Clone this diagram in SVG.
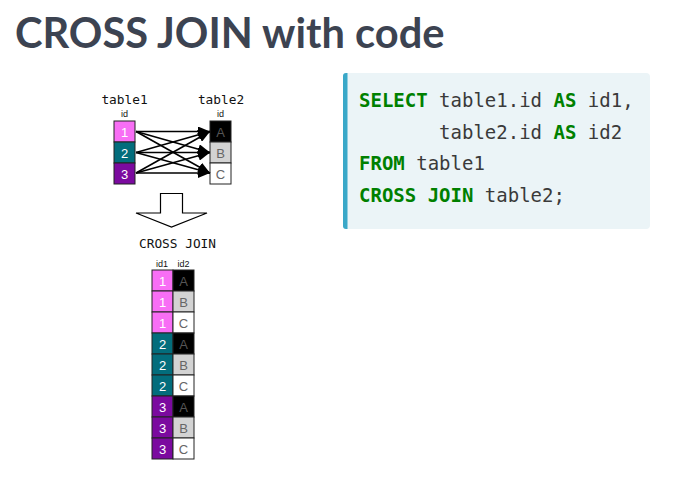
<svg xmlns="http://www.w3.org/2000/svg" width="688" height="483" viewBox="0 0 688 483">
<style>
.title{font-family:Lato,"Noto Sans",sans-serif;font-weight:bold;font-size:41.6px;fill:#3c4351}
.mono{font-family:"DejaVu Sans Mono","Liberation Mono",monospace;font-size:12.8px;fill:#111}
.code{font-family:"DejaVu Sans Mono","Liberation Mono",monospace;font-size:19px;fill:#3a3a3a}
.kw{font-weight:bold;fill:#008000}
.small{font-family:"Liberation Sans",Arial,sans-serif;font-size:9px;fill:#111;text-anchor:middle}
.cell{stroke:#222;stroke-width:1}
.ct{font-family:"Liberation Sans",Arial,sans-serif;font-size:13px;text-anchor:middle}
.w{fill:#fff}.g{fill:#666}.d{fill:#555}
.c1{fill:#f86ef5}.c2{fill:#036d7c}.c3{fill:#7b0a9f}
.cA{fill:#000}.cB{fill:#d3d3d3}.cC{fill:#fff}
.conn{stroke:#000;stroke-width:1.6;fill:none}
</style>
<defs>
<marker id="ah" markerWidth="12" markerHeight="10" refX="12" refY="5" orient="auto" markerUnits="userSpaceOnUse">
<path d="M0,0 L12,5 L0,10 Z" fill="#000"/>
</marker>
</defs>
<rect width="688" height="483" fill="#fff"/>
<text class="title" x="15" y="48">CROSS JOIN with code</text>

<g id="table1">
<text class="mono" x="124.5" y="104" text-anchor="middle">table1</text>
<text class="small" x="124.5" y="117">id</text>
<rect class="cell c1" x="114" y="121" width="21" height="21"/>
<rect class="cell c2" x="114" y="142" width="21" height="21"/>
<rect class="cell c3" x="114" y="163" width="21" height="21"/>
<text class="ct w" x="124.5" y="136.5">1</text>
<text class="ct w" x="124.5" y="157.5">2</text>
<text class="ct w" x="124.5" y="178.5">3</text>
</g>

<g id="table2">
<text class="mono" x="221" y="104" text-anchor="middle">table2</text>
<text class="small" x="220.5" y="117">id</text>
<rect class="cell cA" x="210" y="121" width="21" height="21"/>
<rect class="cell cB" x="210" y="142" width="21" height="21"/>
<rect class="cell cC" x="210" y="163" width="21" height="21"/>
<text class="ct d" x="220.5" y="136.5">A</text>
<text class="ct g" x="220.5" y="157.5">B</text>
<text class="ct g" x="220.5" y="178.5">C</text>
</g>

<g id="connectors">
<line class="conn" x1="136" y1="131.5" x2="210" y2="131.5" marker-end="url(#ah)"/>
<line class="conn" x1="136" y1="131.5" x2="210" y2="152.5" marker-end="url(#ah)"/>
<line class="conn" x1="136" y1="131.5" x2="210" y2="173" marker-end="url(#ah)"/>
<line class="conn" x1="136" y1="152.5" x2="210" y2="131.5" marker-end="url(#ah)"/>
<line class="conn" x1="136" y1="152.5" x2="210" y2="152.5" marker-end="url(#ah)"/>
<line class="conn" x1="136" y1="152.5" x2="210" y2="173" marker-end="url(#ah)"/>
<line class="conn" x1="136" y1="173" x2="210" y2="131.5" marker-end="url(#ah)"/>
<line class="conn" x1="136" y1="173" x2="210" y2="152.5" marker-end="url(#ah)"/>
<line class="conn" x1="136" y1="173" x2="210" y2="173" marker-end="url(#ah)"/>
</g>

<g id="bigarrow">
<path d="M160.5,193.5 H182.5 V213 H207 L171.5,227 L136,213 H160.5 Z" fill="#fff" stroke="#000" stroke-width="1.2"/>
<text class="mono" x="177.5" y="247.5" text-anchor="middle" font-size="13.2px">CROSS JOIN</text>
</g>

<g id="result">
<text class="small" x="162" y="267">id1</text>
<text class="small" x="183.5" y="267">id2</text>
<rect class="cell c1" x="152" y="270" width="21" height="21"/>
<rect class="cell c1" x="152" y="291" width="21" height="21"/>
<rect class="cell c1" x="152" y="312" width="21" height="21"/>
<rect class="cell c2" x="152" y="333" width="21" height="21"/>
<rect class="cell c2" x="152" y="354" width="21" height="21"/>
<rect class="cell c2" x="152" y="375" width="21" height="21"/>
<rect class="cell c3" x="152" y="396" width="21" height="21"/>
<rect class="cell c3" x="152" y="417" width="21" height="21"/>
<rect class="cell c3" x="152" y="438" width="21" height="21"/>
<rect class="cell cA" x="173" y="270" width="21" height="21"/>
<rect class="cell cB" x="173" y="291" width="21" height="21"/>
<rect class="cell cC" x="173" y="312" width="21" height="21"/>
<rect class="cell cA" x="173" y="333" width="21" height="21"/>
<rect class="cell cB" x="173" y="354" width="21" height="21"/>
<rect class="cell cC" x="173" y="375" width="21" height="21"/>
<rect class="cell cA" x="173" y="396" width="21" height="21"/>
<rect class="cell cB" x="173" y="417" width="21" height="21"/>
<rect class="cell cC" x="173" y="438" width="21" height="21"/>
<text class="ct w" x="162.5" y="285.5">1</text>
<text class="ct w" x="162.5" y="306.5">1</text>
<text class="ct w" x="162.5" y="327.5">1</text>
<text class="ct w" x="162.5" y="348.5">2</text>
<text class="ct w" x="162.5" y="369.5">2</text>
<text class="ct w" x="162.5" y="390.5">2</text>
<text class="ct w" x="162.5" y="411.5">3</text>
<text class="ct w" x="162.5" y="432.5">3</text>
<text class="ct w" x="162.5" y="453.5">3</text>
<text class="ct d" x="183.5" y="285.5">A</text>
<text class="ct g" x="183.5" y="306.5">B</text>
<text class="ct g" x="183.5" y="327.5">C</text>
<text class="ct d" x="183.5" y="348.5">A</text>
<text class="ct g" x="183.5" y="369.5">B</text>
<text class="ct g" x="183.5" y="390.5">C</text>
<text class="ct d" x="183.5" y="411.5">A</text>
<text class="ct g" x="183.5" y="432.5">B</text>
<text class="ct g" x="183.5" y="453.5">C</text>
</g>

<g id="codebox">
<rect x="343" y="73" width="307" height="156" rx="4" fill="#ebf4f7"/>
<path d="M347.5,73 H346 A3,3 0 0 0 343,76 V226 A3,3 0 0 0 346,229 H347.5 Z" fill="#3aa8c8"/>
<text class="code" x="359" y="107" xml:space="preserve"><tspan class="kw">SELECT</tspan> table1.id <tspan class="kw">AS</tspan> id1,</text>
<text class="code" x="359" y="138.5" xml:space="preserve">       table2.id <tspan class="kw">AS</tspan> id2</text>
<text class="code" x="359" y="170" xml:space="preserve"><tspan class="kw">FROM</tspan> table1</text>
<text class="code" x="359" y="201.5" xml:space="preserve"><tspan class="kw">CROSS JOIN</tspan> table2;</text>
</g>
</svg>
